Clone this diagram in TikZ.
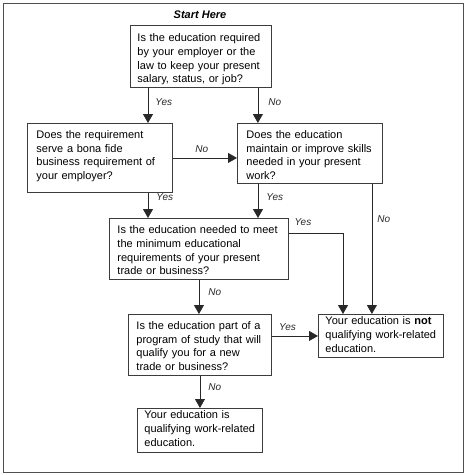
\documentclass[tikz,border=0pt]{standalone}
\usepackage{fontspec}
\setmainfont{Liberation Sans}
\usetikzlibrary{arrows.meta}
\definecolor{boxgrey}{RGB}{60,60,60}
\definecolor{framegrey}{RGB}{80,80,80}
\definecolor{arrowgrey}{RGB}{40,40,40}

\begin{document}
\begin{tikzpicture}[
  x=1pt, y=-1pt,
  font=\fontsize{11}{13.6}\selectfont,
  qbox/.style={draw=boxgrey, line width=0.9pt, anchor=north west, align=left, inner ysep=0pt},
  arr/.style={-{Triangle[length=9pt,width=10pt]}, line width=0.8pt, arrowgrey},
  lbl/.style={font=\fontsize{10}{12}\selectfont\itshape, inner sep=0pt}
]
\useasboundingbox (0,0) rectangle (467,475);
\draw[framegrey, line width=1pt] (3,3) rectangle (463,472);

\node[font=\fontsize{11}{13}\selectfont\bfseries\itshape] (start) at (200,15) {Start Here};
\node[qbox, inner xsep=7pt, text width=127pt, text height=16.5pt, text depth=45.5pt] (keepjob) at (130,25)
  {Is the education required\\by your employer or the\\law to keep your present\\salary, status, or job?};
\node[qbox, inner xsep=9pt, text width=127pt, text height=15pt, text depth=54pt] (bonafide) at (27,123)
  {Does the requirement\\serve a bona fide\\business requirement of\\your employer?};
\node[qbox, inner xsep=9pt, text width=127pt, text height=15pt, text depth=45pt] (maintain) at (237,123)
  {Does the education\\maintain or improve skills\\needed in your present\\work?};
\node[qbox, inner xsep=8pt, text width=163pt, text height=15.5pt, text depth=45.5pt] (minreq) at (109,218)
  {Is the education needed to meet\\the minimum educational\\requirements of your present\\trade or business?};
\node[qbox, inner xsep=8pt, text width=127pt, text height=15pt, text depth=46pt] (newtrade) at (128,314)
  {Is the education part of a\\program of study that will\\qualify you for a new\\trade or business?};
\node[qbox, inner xsep=7pt, text width=111pt, text height=10.5pt, text depth=32.5pt] (notqual) at (318,314)
  {Your education is \textbf{not}\\qualifying work-related\\education.};
\node[qbox, inner xsep=7pt, text width=111pt, text height=10.5pt, text depth=33.5pt] (qual) at (137,408)
  {Your education is\\qualifying work-related\\education.};

% fixed points on the box edges
\coordinate (yes1) at ([xshift=18pt]keepjob.south west);
\coordinate (no1) at ([xshift=-14pt]keepjob.south east);
\coordinate (yes3) at ([xshift=21pt]maintain.south west);
\coordinate (no3) at ([xshift=-11pt]maintain.south east);
\coordinate (yes4) at ([yshift=15.5pt]minreq.east);
\coordinate (in4) at ([xshift=25pt]notqual.north west);

\draw[arr] (yes1) -- (yes1 |- bonafide.north) node[lbl, pos=0.41, right=7pt] {Yes};
\draw[arr] (no1) -- (no1 |- maintain.north) node[lbl, pos=0.41, right=10pt] {No};
\draw[arr] (bonafide.east) -- (bonafide.east -| maintain.west) node[lbl, pos=0.45, above=5pt] {No};
\draw[arr] (yes1 |- bonafide.south) -- (yes1 |- minreq.north) node[lbl, pos=0.18, right=8pt] {Yes};
\draw[arr] (yes3) -- (yes3 |- minreq.north) node[lbl, pos=0.39, right=8pt] {Yes};
\draw[arr] (no3) -- (no3 |- notqual.north) node[lbl, pos=0.27, right=5pt] {No};
\draw[arr] (yes4) -| (in4) node[lbl, pos=0.13, above=7pt] {Yes};
\draw[arr] (minreq.south) -- (minreq.south |- newtrade.north) node[lbl, pos=0.37, right=9pt] {No};
\draw[arr] (notqual.west -| newtrade.east) -- (notqual.west) node[lbl, pos=0.34, above=5pt] {Yes};
\draw[arr] (newtrade.south) -- (newtrade.south |- qual.north) node[lbl, pos=0.36, right=8pt] {No};
\end{tikzpicture}
\end{document}
